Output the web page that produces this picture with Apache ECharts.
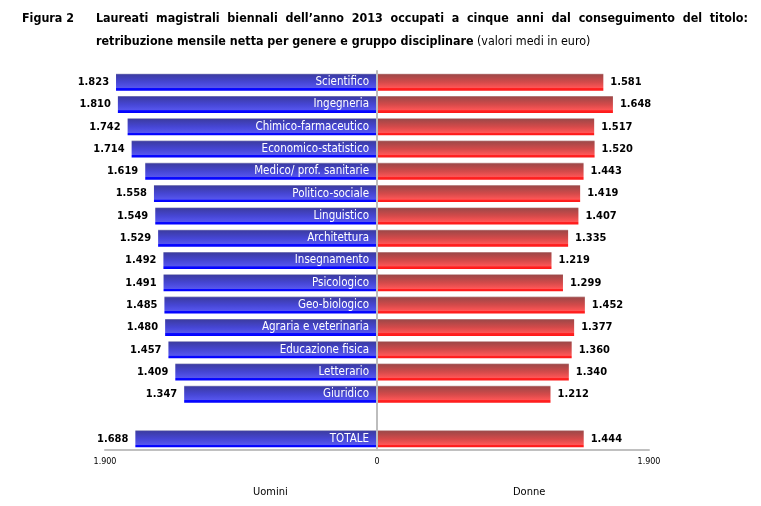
<!DOCTYPE html>
<html><head><meta charset="utf-8">
<script src="https://cdn.jsdelivr.net/npm/echarts@6/dist/echarts.min.js"></script>
<style>html,body{margin:0;padding:0;background:#fff}#c{width:761px;height:506px}</style>
</head><body><div id="c"></div>
<script>
const categories = ['Scientifico','Ingegneria','Chimico-farmaceutico','Economico-statistico','Medico/ prof. sanitarie','Politico-sociale','Linguistico','Architettura','Insegnamento','Psicologico','Geo-biologico','Agraria e veterinaria','Educazione fisica','Letterario','Giuridico','','TOTALE'];
const uomini = [1823,1810,1742,1714,1619,1558,1549,1529,1492,1491,1485,1480,1457,1409,1347,null,1688];
const donne  = [1581,1648,1517,1520,1443,1419,1407,1335,1219,1299,1452,1377,1360,1340,1212,null,1444];
const axisMax = 1900;

function fmt(v){ v=Math.abs(v); return String(v).replace(/\B(?=(\d{3})+(?!\d))/g,'.'); }

const FONT = '"DejaVu Sans Condensed", "DejaVu Sans", sans-serif';
const chart = echarts.init(document.getElementById('c'), null, {renderer:'canvas'});
const blueGrad = new echarts.graphic.LinearGradient(0,0,0,1,[
  {offset:0,color:'#9a9ac0'},{offset:0.07,color:'#3c3ca4'},{offset:0.5,color:'#4646d4'},{offset:0.84,color:'#5656ee'},{offset:0.86,color:'#0a0aff'},{offset:1,color:'#0000ff'}]);
const redGrad = new echarts.graphic.LinearGradient(0,0,0,1,[
  {offset:0,color:'#c8a0a0'},{offset:0.07,color:'#a04848'},{offset:0.5,color:'#d44a4a'},{offset:0.84,color:'#ff5656'},{offset:0.86,color:'#ff2424'},{offset:1,color:'#ff1818'}]);
const maleNeg = uomini.map(v=>v==null?null:-v);

chart.setOption({
  animation:false,
  textStyle:{fontFamily:FONT},
  grid:{left:105,right:112,top:71,bottom:56,containLabel:false,outerBoundsMode:'none'},
  xAxis:{type:'value',min:-axisMax,max:axisMax,interval:axisMax,
    axisLine:{show:true,onZero:false,lineStyle:{color:'#c0c0c0',width:2}},
    axisTick:{show:false},splitLine:{show:false},
    axisLabel:{formatter:v=>fmt(v),fontSize:8,color:'#000',margin:8,fontFamily:'"DejaVu Sans", sans-serif'}},
  yAxis:{type:'category',data:categories,inverse:true,z:10,
    axisLine:{show:true,onZero:true,lineStyle:{color:'#bdbdbd',width:2}},
    axisTick:{show:false},
    axisLabel:{show:false}},
  series:[
    {name:'Uomini',type:'bar',barWidth:17,barGap:'-100%',
     data:maleNeg,
     itemStyle:{color:blueGrad},
     label:{show:true,position:'insideRight',distance:8,formatter:p=>p.name,color:'#fff',fontSize:11.5,fontFamily:FONT}},
    {name:'Donne',type:'bar',barWidth:17,barGap:'-100%',
     data:donne,
     itemStyle:{color:redGrad},
     label:{show:true,position:'right',distance:7,formatter:p=>fmt(p.value),color:'#000',fontWeight:'bold',fontSize:11,fontFamily:FONT}},
    {name:'UominiLabel',type:'bar',barWidth:17,barGap:'-100%',silent:true,
     data:maleNeg,
     itemStyle:{color:'rgba(0,0,0,0)'},
     label:{show:true,position:'left',distance:7,formatter:p=>fmt(p.value),color:'#000',fontWeight:'bold',fontSize:11,fontFamily:FONT}}
  ],
  graphic:[
    {type:'text',left:22,top:13,style:{text:'Figura 2',font:'bold 12.4px '+FONT,fill:'#000'}},
    {type:'text',left:96,top:13,style:{text:'Laureati  magistrali  biennali  dell\u2019anno  2013  occupati  a  cinque  anni  dal  conseguimento  del  titolo:',font:'bold 12.4px '+FONT,fill:'#000'}},
    {type:'text',left:96,top:36,style:{text:'{b|retribuzione mensile netta per genere e gruppo disciplinare} {n|(valori medi in euro)}',
      rich:{b:{font:'bold 12.4px '+FONT,fill:'#000'},n:{font:'12.4px '+FONT,fill:'#000'}}}},
    {type:'text',left:253,top:487,style:{text:'Uomini',font:'11px '+FONT,fill:'#000',align:'center',verticalAlign:'middle'}},
    {type:'text',left:513,top:487,style:{text:'Donne',font:'11px '+FONT,fill:'#000',align:'center',verticalAlign:'middle'}}
  ]
});
</script></body></html>
